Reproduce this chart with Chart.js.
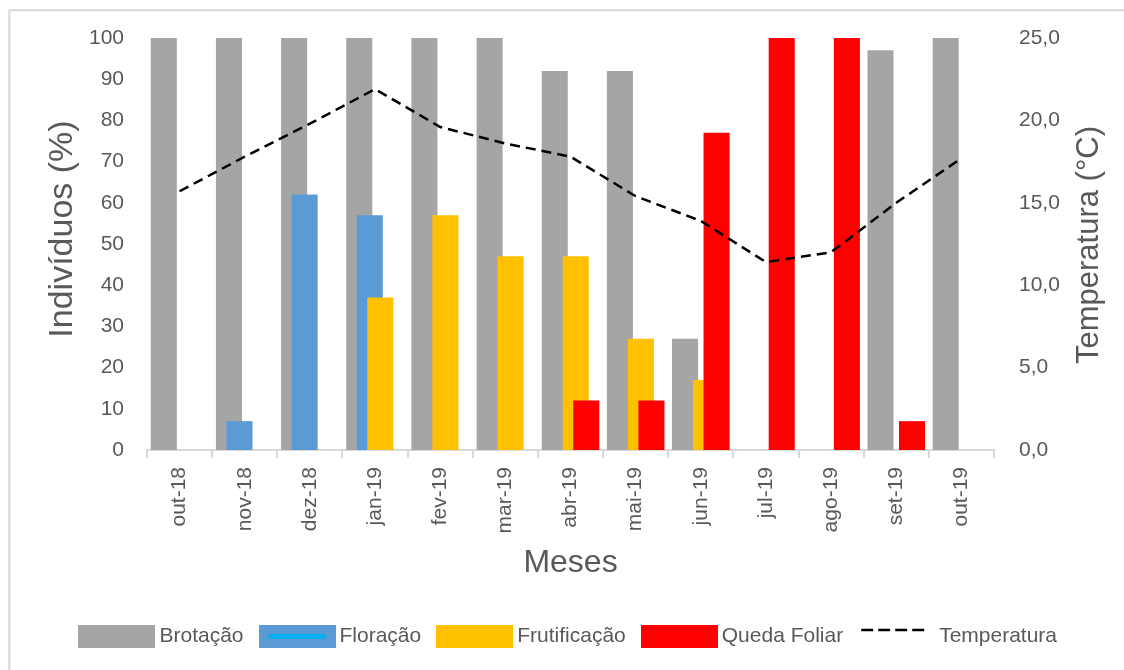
<!DOCTYPE html>
<html lang="pt">
<head>
<meta charset="utf-8">
<title>Fenologia x Temperatura</title>
<script src="https://cdn.jsdelivr.net/npm/chart.js@4/dist/chart.umd.min.js"></script>
<style>
  body { margin: 0; background: #fff; }
  #wrap { width: 1124px; height: 670px; }
</style>
</head>
<body>
<div id="wrap"><canvas id="my-chart" width="1124" height="670"></canvas></div>
<script>
'use strict'

// data
let meses = ['out-18', 'nov-18', 'dez-18', 'jan-19', 'fev-19', 'mar-19', 'abr-19',
  'mai-19', 'jun-19', 'jul-19', 'ago-19', 'set-19', 'out-19'];
let brotacao = [100, 100, 100, 100, 100, 100, 92, 92, 27, 0, 0, 97, 100];
let floracao = [0, 7, 62, 57, 0, 0, 0, 0, 0, 0, 0, 0, 0];
let frutificacao = [0, 0, 0, 37, 57, 47, 47, 27, 17, 0, 0, 0, 0];
let quedaFoliar = [0, 0, 0, 0, 0, 0, 12, 12, 77, 100, 100, 7, 0];
let temperatura = [15.7, 17.8, 19.8, 21.9, 19.6, 18.6, 17.8, 15.4, 13.9, 11.4, 12.0, 15.0, 17.7];

let textColor = '#595959';
let fontFamily = '"Liberation Sans", Arial, sans-serif';

// legend icons, Excel style (wide boxes, dashed sample)
function makeBox(color, innerLine) {
  let c = document.createElement('canvas');
  c.width = 77;
  c.height = 23;
  let g = c.getContext('2d');
  g.fillStyle = color;
  g.fillRect(0, 0, 77, 23);
  if (innerLine) {
    g.fillStyle = innerLine;
    g.fillRect(10, 9, 57, 5);
  }
  return c;
}

function makeDash() {
  let c = document.createElement('canvas');
  c.width = 77;
  c.height = 23;
  let g = c.getContext('2d');
  g.strokeStyle = '#000';
  g.lineWidth = 2.5;
  g.setLineDash([12, 5]);
  g.beginPath();
  g.moveTo(3, 5);
  g.lineTo(67, 5);
  g.stroke();
  return c;
}

let legendIcons = [
  makeBox('#a5a5a5'),
  makeBox('#5b9bd5', '#00b0f0'),
  makeBox('#ffc000'),
  makeBox('#ff0000'),
  makeDash()
];

// Excel draws later series on top, Chart.js does the opposite
let drawOrderPlugin = {
  id: 'drawOrder',
  beforeDatasetsDraw(chart) {
    let metas = chart.getSortedVisibleDatasetMetas();
    for (let i = 0; i < metas.length; i++) {
      chart._drawDataset(metas[i]);
    }
    return false;
  }
};

let framePlugin = {
  id: 'frame',
  beforeDraw(chart) {
    let ctx = chart.ctx;
    ctx.save();
    ctx.fillStyle = '#fff';
    ctx.fillRect(0, 0, chart.width, chart.height);
    ctx.strokeStyle = '#d9d9d9';
    ctx.lineWidth = 2;
    ctx.beginPath();
    ctx.moveTo(9.3, chart.height);
    ctx.lineTo(9.3, 10.3);
    ctx.lineTo(chart.width, 10.3);
    ctx.stroke();
    ctx.restore();
  }
};

// y titles both read bottom-to-top, as in Excel
function verticalText(ctx, text, x, y, size) {
  ctx.save();
  ctx.translate(x, y);
  ctx.rotate(-Math.PI / 2);
  ctx.font = size + 'px ' + fontFamily;
  ctx.fillStyle = textColor;
  ctx.textAlign = 'center';
  ctx.textBaseline = 'alphabetic';
  ctx.fillText(text, 0, 0);
  ctx.restore();
}

let axisTitlePlugin = {
  id: 'axisTitles',
  afterDraw(chart) {
    verticalText(chart.ctx, 'Indivíduos (%)', 72, 229, 34);
    verticalText(chart.ctx, 'Temperatura (°C)', 1098, 245, 31);
  }
};

let barDefaults = {
  borderWidth: 0,
  categoryPercentage: 0.645,
  barPercentage: 2.48,
  yAxisID: 'y'
};

let chartConfig = {
  type: 'bar',
  data: {
    labels: meses,
    datasets: [
      Object.assign({ label: 'Brotação', data: brotacao, backgroundColor: '#a5a5a5' }, barDefaults),
      Object.assign({ label: 'Floração', data: floracao, backgroundColor: '#5b9bd5' }, barDefaults),
      Object.assign({ label: 'Frutificação', data: frutificacao, backgroundColor: '#ffc000' }, barDefaults),
      Object.assign({ label: 'Queda Foliar', data: quedaFoliar, backgroundColor: '#ff0000' }, barDefaults),
      {
        type: 'line',
        label: 'Temperatura',
        data: temperatura,
        yAxisID: 'y2',
        borderColor: '#000',
        borderWidth: 2.5,
        borderDash: [10, 6],
        pointRadius: 0,
        fill: false,
        tension: 0
      }
    ]
  },
  options: {
    responsive: false,
    animation: false,
    layout: { padding: { top: 38, left: 18, right: 0, bottom: 13 } },
    plugins: {
      tooltip: { enabled: false },
      legend: {
        position: 'bottom',
        labels: {
          usePointStyle: true,
          pointStyleWidth: 64,
          padding: 21.5,
          color: textColor,
          font: { family: fontFamily, size: 21 },
          generateLabels: function (chart) {
            return chart.data.datasets.map(function (ds, i) {
              return {
                text: ds.label,
                pointStyle: legendIcons[i],
                fontColor: textColor,
                lineWidth: 0,
                strokeStyle: 'rgba(0,0,0,0)',
                fillStyle: 'rgba(0,0,0,0)',
                hidden: false,
                datasetIndex: i
              };
            });
          }
        }
      }
    },
    scales: {
      x: {
        offset: true,
        afterFit: function (scale) { scale.height = 154.5; },
        grid: {
          display: true,
          drawOnChartArea: false,
          drawTicks: true,
          tickLength: 8,
          color: '#d9d9d9',
          lineWidth: 2,
          offset: true
        },
        border: { display: true, color: '#d9d9d9', width: 2 },
        ticks: {
          autoSkip: false,
          minRotation: 90,
          maxRotation: 90,
          padding: 9,
          color: textColor,
          font: { family: fontFamily, size: 21 }
        },
        title: {
          display: true,
          text: 'Meses',
          color: textColor,
          font: { family: fontFamily, size: 32 },
          padding: { top: 0, bottom: 22 }
        }
      },
      y: {
        position: 'left',
        min: 0,
        max: 100,
        afterFit: function (scale) { scale.width = 129; },
        grid: { display: false, drawTicks: false },
        border: { display: false },
        ticks: {
          stepSize: 10,
          padding: 23,
          color: textColor,
          font: { family: fontFamily, size: 21 }
        }
      },
      y2: {
        position: 'right',
        min: 0,
        max: 25,
        afterFit: function (scale) { scale.width = 130; },
        grid: { display: false, drawTicks: false },
        border: { display: false },
        ticks: {
          stepSize: 5,
          padding: 25,
          color: textColor,
          font: { family: fontFamily, size: 21 },
          callback: function (value) { return value.toFixed(1).replace('.', ','); }
        }
      }
    }
  },
  plugins: [framePlugin, drawOrderPlugin, axisTitlePlugin]
};

let chartContext = document.getElementById('my-chart').getContext('2d');
let myChart = new Chart(chartContext, chartConfig);
</script>
</body>
</html>
